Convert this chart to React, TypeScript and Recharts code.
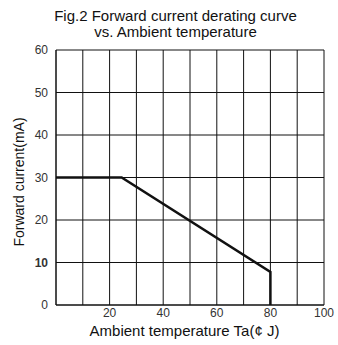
import React from "react";
import { LineChart, Line, XAxis, YAxis, CartesianGrid } from "recharts";

const temps = [0, 24.5, 80, 80];
const currents = [30, 30, 7.8, 0];
const xGridTicks = [0, 10, 20, 30, 40, 50, 60, 70, 80, 90, 100];
const xLabelTicks = [20, 40, 60, 80, 100];
const yTicks = [0, 10, 20, 30, 40, 50, 60];

const data = temps.map((t, i) => ({ t, i: currents[i] }));

const FONT = "'Liberation Sans', Arial, sans-serif";

const YTick = (props: any) => {
  const { x, y, payload } = props;
  return (
    <text
      x={x}
      y={y}
      dy={4}
      textAnchor="end"
      fontSize={12}
      fontFamily={FONT}
      fill="#333"
      fontWeight={payload.value === 10 ? "bold" : "normal"}
    >
      {payload.value}
    </text>
  );
};

const XTick = (props: any) => {
  const { x, y, payload } = props;
  if (!xLabelTicks.includes(payload.value)) return <g />;
  return (
    <text x={x} y={y} dy={9} textAnchor="middle" fontSize={12} fontFamily={FONT} fill="#333">
      {payload.value}
    </text>
  );
};

export default function App() {
  return (
    <div style={{ position: "absolute", left: 0, top: 0, width: 338, height: 345, background: "#fff", fontFamily: FONT, overflow: "hidden" }}>
      <div style={{ position: "absolute", left: 0, top: 8, width: 351, textAlign: "center", fontSize: 15, lineHeight: "16px", color: "#111" }}>
        Fig.2 Forward current derating curve
        <br />
        vs. Ambient temperature
      </div>
      <div style={{ position: "absolute", left: 0, top: 0 }}>
        <LineChart width={338} height={345} data={data} margin={{ top: 50, right: 14, bottom: 10, left: 0 }}>
          <CartesianGrid stroke="#111" strokeWidth={1} horizontalValues={yTicks} verticalValues={xGridTicks} />
          <XAxis
            type="number"
            dataKey="t"
            domain={[0, 100]}
            ticks={xGridTicks}
            interval={0}
            height={30}
            tickLine={false}
            tickSize={0}
            tickMargin={3}
            axisLine={{ stroke: "#111" }}
            tick={<XTick />}
          />
          <YAxis
            type="number"
            dataKey="i"
            domain={[0, 60]}
            ticks={yTicks}
            interval={0}
            width={56}
            tickLine={false}
            tickSize={0}
            tickMargin={8}
            axisLine={{ stroke: "#111" }}
            tick={<YTick />}
          />
          <Line type="linear" dataKey="i" stroke="#111" strokeWidth={2.5} dot={false} isAnimationActive={false} />
        </LineChart>
      </div>
      <div style={{ position: "absolute", left: 0, top: 322, width: 369, textAlign: "center", fontSize: 15, color: "#111", whiteSpace: "nowrap" }}>
        Ambient temperature Ta(¢ J)
      </div>
      <div
        style={{
          position: "absolute",
          left: 19,
          top: 182,
          transform: "translate(-50%, -50%) rotate(-90deg)",
          whiteSpace: "nowrap",
          fontSize: 14,
          color: "#111",
        }}
      >
        Forward current(mA)
      </div>
    </div>
  );
}
